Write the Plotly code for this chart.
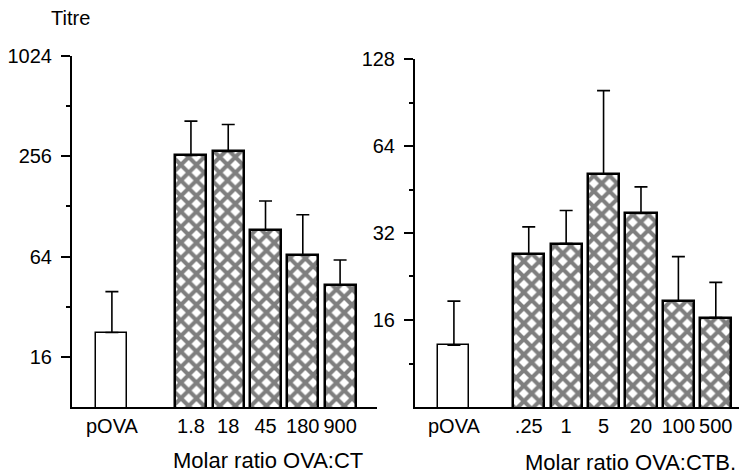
import plotly.graph_objects as go

# ---- data ----
ct_labels = ["pOVA", "1.8", "18", "45", "180", "900"]
ct_titre = [22.4, 259, 274, 92, 65.6, 43.2]
ct_upper = [39.4, 416, 397, 138, 114, 61]

ctb_labels = ["pOVA", ".25", "1", "5", "20", "100", "500"]
ctb_titre = [13.1, 27.1, 29.4, 51.1, 37.4, 18.6, 16.3]
ctb_upper = [18.6, 33.6, 38.3, 99.5, 46.2, 26.5, 21.6]

left_ticks = [16, 64, 256, 1024]
left_minor = [32, 128, 512]
right_ticks = [16, 32, 64, 128]
right_minor = [11.31, 22.63, 45.25, 90.51]

FONT = "Liberation Sans, Arial, Helvetica, sans-serif"

def positions(n, gap):
    return [0] + [gap + i for i in range(n - 1)]

xl = positions(len(ct_labels), 2.12)
xr = positions(len(ctb_labels), 2.0)

def make_bars(x, y, up, xa, ya):
    n = len(x)
    shapes = [""] + ["x"] * (n - 1)
    return go.Bar(
        x=x, y=y, xaxis=xa, yaxis=ya, width=0.83,
        marker=dict(
            color="white",
            line=dict(color="black", width=[1.5] + [2.5] * (n - 1)),
            pattern=dict(shape=shapes, fgcolor="black", bgcolor="white",
                         size=11, solidity=0.6, fillmode="overlay"),
        ),
        error_y=dict(type="data", symmetric=False,
                     array=[u - v for u, v in zip(up, y)],
                     arrayminus=[0] * n, color="black",
                     thickness=1.6, width=6.5),
        showlegend=False,
    )

fig = go.Figure()
fig.add_trace(make_bars(xl, ct_titre, ct_upper, "x", "y"))
fig.add_trace(make_bars(xr, ctb_titre, ctb_upper, "x2", "y2"))

W, H = 739, 475
def fx(p): return p / W
def fy(p): return 1 - p / H

axis_common = dict(showgrid=False, zeroline=False, showline=True,
                   linecolor="black", linewidth=2, color="black",
                   automargin=False,
                   tickfont=dict(family=FONT, size=20, color="black"))

yaxis_common = dict(type="log", ticks="outside", ticklen=9, tickwidth=2,
                    tickcolor="black", ticklabelstandoff=5)

fig.update_layout(
    width=W, height=H, margin=dict(l=0, r=0, t=0, b=0, pad=0),
    paper_bgcolor="white", plot_bgcolor="white",
    bargap=0, font=dict(family=FONT, size=20, color="black"),
    xaxis=dict(domain=[fx(72), fx(377)], range=[-1.07, 7.11],
               tickvals=xl, ticktext=ct_labels, ticks="", tickangle=0,
               anchor="y", **axis_common),
    yaxis=dict(domain=[fy(407), fy(56)],
               range=[0.90309, 3.0103], tickvals=left_ticks,
               ticktext=[str(v) for v in left_ticks], anchor="x",
               minor=dict(tickvals=left_minor, ticks="outside", ticklen=4,
                          tickwidth=2, tickcolor="black"),
               **yaxis_common, **axis_common),
    xaxis2=dict(domain=[fx(415), 1.0], range=[-1.04, 7.62],
                tickvals=xr, ticktext=ctb_labels, ticks="", tickangle=0,
                anchor="y2", **axis_common),
    yaxis2=dict(domain=[fy(407), fy(59)],
                range=[0.90309, 2.10721], tickvals=right_ticks,
                ticktext=[str(v) for v in right_ticks], anchor="x2",
                minor=dict(tickvals=right_minor, ticks="outside", ticklen=4,
                           tickwidth=2, tickcolor="black"),
                **yaxis_common, **axis_common),
    annotations=[
        dict(text="Titre", x=fx(70), y=fy(18), xref="paper", yref="paper",
             xanchor="center", yanchor="middle", showarrow=False,
             font=dict(family=FONT, size=20, color="black")),
        dict(text="Molar ratio OVA:CT", x=fx(268), y=fy(460), xref="paper",
             yref="paper", xanchor="center", yanchor="middle",
             showarrow=False, font=dict(family=FONT, size=22, color="black")),
        dict(text="Molar ratio OVA:CTB.", x=fx(630), y=fy(462), xref="paper",
             yref="paper", xanchor="center", yanchor="middle",
             showarrow=False, font=dict(family=FONT, size=22, color="black")),
    ],
)

fig.write_html("out.html")
